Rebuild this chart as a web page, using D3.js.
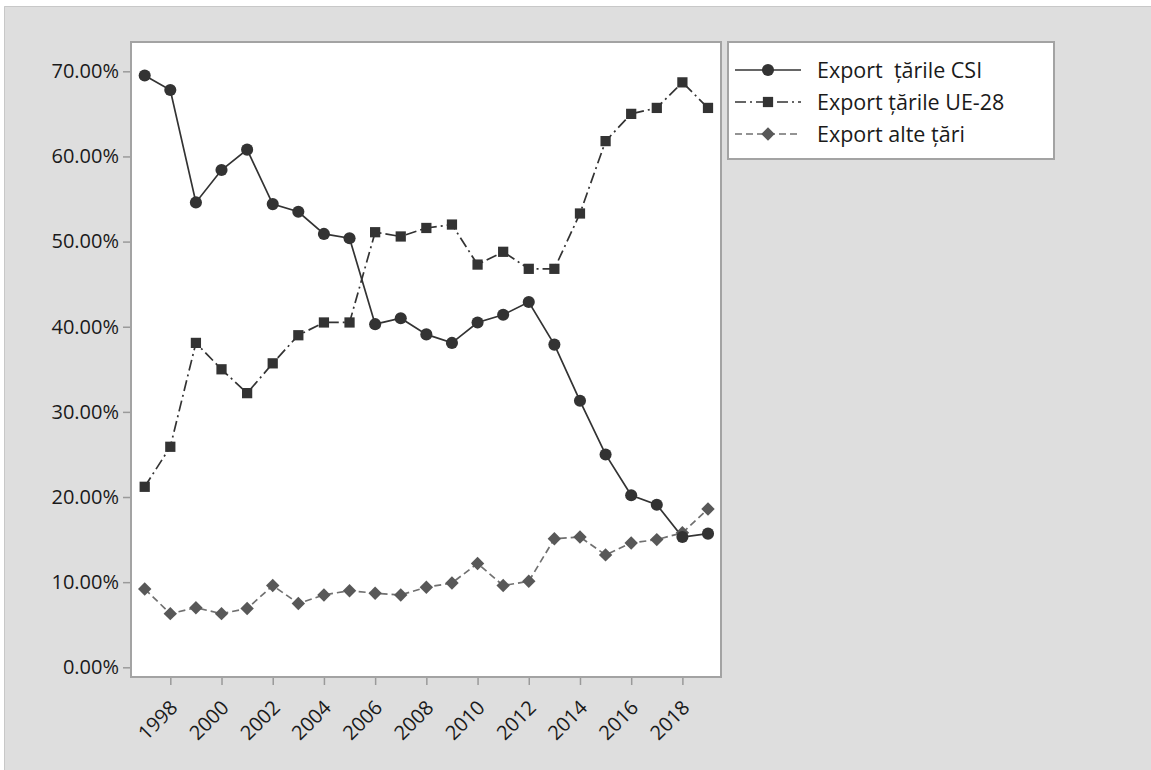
<!DOCTYPE html>
<html>
<head>
<meta charset="utf-8">
<script src="https://cdn.jsdelivr.net/npm/d3@7/dist/d3.min.js"></script>
<style>
  html, body { margin: 0; padding: 0; background: #ffffff; }
  svg { display: block; }
  text { font-family: "Open Sans", "Noto Sans", sans-serif; fill: #1a1a1a; }
</style>
</head>
<body>
<svg id="chart" width="1151" height="770"></svg>
<script>
// Export shares by destination, 1997–2019 (percent)
const years = d3.range(1997, 2020);
const exportCSI = [69.5, 67.8, 54.6, 58.4, 60.8, 54.4, 53.5, 50.9, 50.4, 40.3, 41.0, 39.1,
                   38.1, 40.5, 41.4, 42.9, 37.9, 31.3, 25.0, 20.2, 19.1, 15.3, 15.7];
const exportUE28 = [21.2, 25.9, 38.1, 35.0, 32.2, 35.7, 39.0, 40.5, 40.5, 51.1, 50.6, 51.6,
                    52.0, 47.3, 48.8, 46.8, 46.8, 53.3, 61.8, 65.0, 65.7, 68.7, 65.7];
const exportAlte = [9.2, 6.3, 7.0, 6.3, 6.9, 9.6, 7.5, 8.5, 9.0, 8.7, 8.5, 9.4,
                    9.9, 12.2, 9.6, 10.1, 15.1, 15.3, 13.2, 14.6, 15.0, 15.8, 18.6];
const yTicks = [0, 10, 20, 30, 40, 50, 60, 70];
const xTicks = d3.range(1998, 2019, 2);
const seriesNames = ["Export  țările CSI", "Export țările UE-28", "Export alte țări"];

const FONT = '"Open Sans", "Noto Sans", sans-serif';
const svg = d3.select("#chart");

// background panel
svg.append("rect").attr("x", 4).attr("y", 6).attr("width", 1147).attr("height", 764)
  .attr("fill", "#dedede");
svg.append("path").attr("d", "M4.5,770V6.5H1151").attr("fill", "none")
  .attr("stroke", "#c8c8c8").attr("stroke-width", 1);

// plot frame
const frame = { left: 131, top: 42, right: 721, bottom: 677 };
svg.append("rect")
  .attr("x", frame.left).attr("y", frame.top)
  .attr("width", frame.right - frame.left).attr("height", frame.bottom - frame.top)
  .attr("fill", "#ffffff").attr("stroke", "#a3a3a3").attr("stroke-width", 2);

const x = d3.scaleLinear().domain([1997, 2019]).range([144.7, 708]);
const y = d3.scaleLinear().domain([0, 70]).range([667.3, 71.3]);

// y axis
const yAxis = svg.append("g").attr("transform", `translate(${frame.left - 1},0)`)
  .call(d3.axisLeft(y).tickValues(yTicks).tickSize(7).tickPadding(4)
        .tickFormat(d => d3.format(".2f")(d) + "%"));
yAxis.select(".domain").remove();
yAxis.selectAll(".tick line").attr("stroke", "#9a9a9a").attr("stroke-width", 1.5);
yAxis.selectAll(".tick text").attr("font-size", 20).attr("fill", "#1a1a1a")
  .style("font-family", FONT);

// x axis
const xAxis = svg.append("g").attr("transform", `translate(0,${frame.bottom + 1})`)
  .call(d3.axisBottom(x).tickValues(xTicks).tickSize(7).tickFormat(d3.format("d")));
xAxis.select(".domain").remove();
xAxis.selectAll(".tick line").attr("stroke", "#9a9a9a").attr("stroke-width", 1.5);
xAxis.selectAll(".tick text")
  .attr("font-size", 20).attr("fill", "#1a1a1a")
  .style("font-family", FONT)
  .attr("text-anchor", "end")
  .attr("x", 0).attr("y", 0).attr("dy", 0)
  .attr("transform", "translate(8,31) rotate(-45)");

// series definitions
const series = [
  { name: seriesNames[0], values: exportCSI, color: "#333333", dash: null, marker: "circle", mcolor: "#333333" },
  { name: seriesNames[1], values: exportUE28, color: "#333333", dash: "11,4,2,4", marker: "square", mcolor: "#333333" },
  { name: seriesNames[2], values: exportAlte, color: "#707070", dash: "7,4", marker: "diamond", mcolor: "#585858" }
];

const symbolFor = {
  circle: { path: d3.symbol().type(d3.symbolCircle).size(115)(), rot: 0 },
  square: { path: d3.symbol().type(d3.symbolSquare).size(105)(), rot: 0 },
  diamond: { path: d3.symbol().type(d3.symbolSquare).size(90)(), rot: 45 }
};

const line = d3.line().x(d => x(d[0])).y(d => y(d[1]));

// lines first, markers on top (reverse order so CSI sits above)
series.slice().reverse().forEach(s => {
  const pts = years.map((yr, i) => [yr, s.values[i]]);
  svg.append("path").datum(pts)
    .attr("d", line).attr("fill", "none")
    .attr("stroke", s.color).attr("stroke-width", 1.7)
    .attr("stroke-dasharray", s.dash);
});
series.slice().reverse().forEach(s => {
  const sym = symbolFor[s.marker];
  svg.append("g").selectAll("path").data(years.map((yr, i) => [yr, s.values[i]]))
    .join("path")
    .attr("d", sym.path)
    .attr("transform", d => `translate(${x(d[0])},${y(d[1])}) rotate(${sym.rot})`)
    .attr("fill", s.mcolor);
});

// legend
const lg = svg.append("g");
lg.append("rect").attr("x", 728).attr("y", 42).attr("width", 326).attr("height", 117)
  .attr("fill", "#ffffff").attr("stroke", "#a3a3a3").attr("stroke-width", 2);
const rowY = [70, 102, 134];
series.forEach((s, i) => {
  const sym = symbolFor[s.marker];
  const g = lg.append("g").attr("transform", `translate(0,${rowY[i]})`);
  g.append("line").attr("x1", 735).attr("x2", 801).attr("y1", 0).attr("y2", 0)
    .attr("stroke", s.color).attr("stroke-width", 1.7).attr("stroke-dasharray", s.dash);
  g.append("path").attr("d", sym.path).attr("transform", `translate(768,0) rotate(${sym.rot})`)
    .attr("fill", s.mcolor);
  g.append("text").attr("x", 817).attr("y", 0).attr("dy", "0.35em")
    .attr("font-size", 21.5).style("white-space", "pre").attr("xml:space", "preserve")
    .text(s.name);
});
</script>
</body>
</html>
